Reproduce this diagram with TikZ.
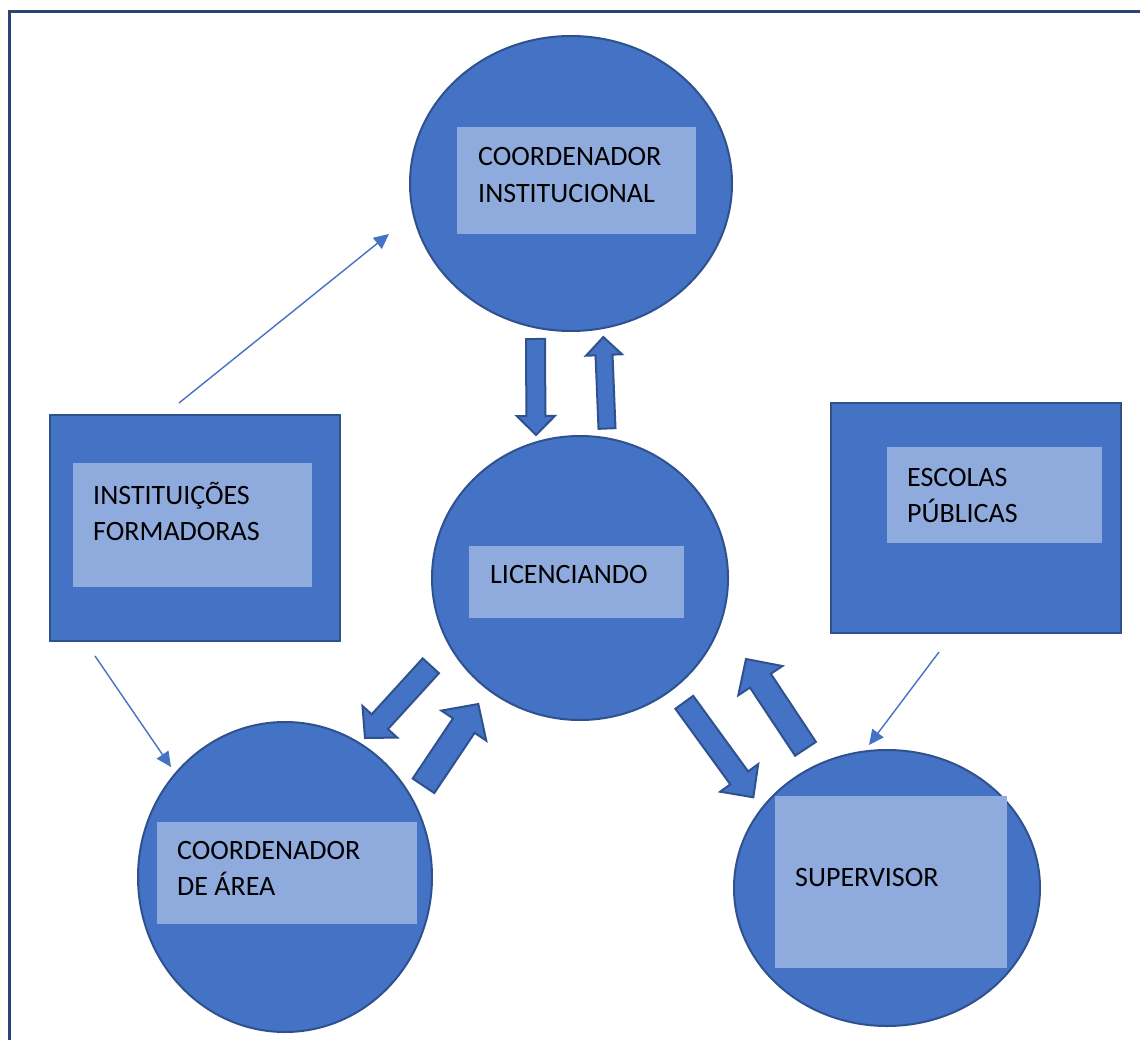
\documentclass[tikz,border=0pt]{standalone}
\usepackage{fontspec}
\setmainfont{Carlito}
\usetikzlibrary{shapes.geometric,arrows.meta,calc}
\definecolor{ofblue}{HTML}{4472C4}
\definecolor{ofedge}{HTML}{2F528F}
\definecolor{oflight}{HTML}{8FAADC}
\definecolor{offrame}{HTML}{2A4475}
\tikzset{
  bigell/.style={ellipse, draw=ofedge, fill=ofblue, line width=2pt, inner sep=0pt},
  bigbox/.style={rectangle, draw=ofedge, fill=ofblue, line width=2pt, inner sep=0pt},
  panel/.style={rectangle, fill=oflight, inner sep=0pt},
  lbl/.style={anchor=west, align=left, inner sep=0pt, font=\fontsize{28}{36.5}\selectfont, text=black},
  thinarrow/.style={draw=ofblue, line width=1.4pt, -{Triangle[length=15pt,width=14pt]}},
  barrow/.style={draw=ofedge, fill=ofblue, line width=2pt, line join=miter},
}
\newcommand\blockarrow[6]{%
  \coordinate (#1-t) at (#2);
  \coordinate (#1-p) at (#3);
  \coordinate (#1-h) at ($(#1-p)!#6!(#1-t)$);
  \draw[barrow] ($(#1-t)!#4!90:(#1-p)$) -- ($(#1-h)!#4!90:(#1-p)$) -- ($(#1-h)!#5!90:(#1-p)$)
    -- (#1-p) -- ($(#1-h)!#5!-90:(#1-p)$) -- ($(#1-h)!#4!-90:(#1-p)$) -- ($(#1-t)!#4!-90:(#1-p)$) -- cycle;
}
\begin{document}
\begin{tikzpicture}[x=1pt,y=-1pt]
\useasboundingbox (0,0) rectangle (1140,1040);
\fill[white] (0,0) rectangle (1140,1040);
% frame
\draw[offrame, line width=3pt] (9,1045) -- (9,12) -- (1145,12);

% Coordenador institucional
\node[bigell, minimum width=322pt, minimum height=295pt] (ci) at (571,183.5) {};
\node[panel, minimum width=239pt, minimum height=107pt] (cibox) at (576.5,180.5) {};
\node[lbl] (citxt) at (478,175) {COORDENADOR\\INSTITUCIONAL};

% Licenciando
\node[bigell, minimum width=296pt, minimum height=284pt] (lic) at (580,578) {};
\node[panel, minimum width=215pt, minimum height=72pt] (licbox) at (576.5,582) {};
\node[lbl] (lictxt) at (490,575) {LICENCIANDO};

% Instituicoes formadoras
\node[bigbox, minimum width=290pt, minimum height=226pt] (inst) at (195,528) {};
\node[panel, minimum width=239pt, minimum height=124pt] (instbox) at (192.5,525) {};
\node[lbl] (insttxt) at (93,511.5) {INSTITUIÇÕES\\FORMADORAS};

% Escolas publicas
\node[bigbox, minimum width=290pt, minimum height=230pt] (esc) at (976,518) {};
\node[panel, minimum width=215pt, minimum height=96pt] (escbox) at (994.5,495) {};
\node[lbl] (esctxt) at (907,495.5) {ESCOLAS\\PÚBLICAS};

% Coordenador de area
\node[bigell, minimum width=294pt, minimum height=310pt] (ca) at (285,877) {};
\node[panel, minimum width=260pt, minimum height=102pt] (cabox) at (287,873) {};
\node[lbl] (catxt) at (177,868.5) {COORDENADOR\\DE ÁREA};

% Supervisor
\node[bigell, minimum width=306pt, minimum height=276pt] (sup) at (887,888) {};
\node[panel, minimum width=232pt, minimum height=172pt] (supbox) at (891,882) {};
\node[lbl] (suptxt) at (795,878) {SUPERVISOR};

% thin arrows
\coordinate (t1s) at (179,403); \coordinate (t1e) at (389,234);
\coordinate (t2s) at (95,656);  \coordinate (t2e) at (171,767);
\coordinate (t3s) at (939,652); \coordinate (t3e) at (869,745);
\draw[thinarrow] (t1s) -- (t1e);
\draw[thinarrow] (t2s) -- (t2e);
\draw[thinarrow] (t3s) -- (t3e);

% block arrows
\blockarrow{b1}{535.5,339}{536,435}{9.5pt}{19pt}{19pt}
\blockarrow{b2}{607,428.5}{603.3,337}{8.5pt}{18pt}{18pt}
\blockarrow{b3}{430.8,665.8}{365,738}{11pt}{23.5pt}{22pt}
\blockarrow{b4}{423.5,785.8}{478.3,704}{13pt}{27pt}{26pt}
\blockarrow{b5}{684.3,702.3}{753.3,797.3}{11pt}{23.5pt}{24pt}
\blockarrow{b6}{805.5,748.8}{746,659}{12.5pt}{26.5pt}{26pt}
\end{tikzpicture}
\end{document}
